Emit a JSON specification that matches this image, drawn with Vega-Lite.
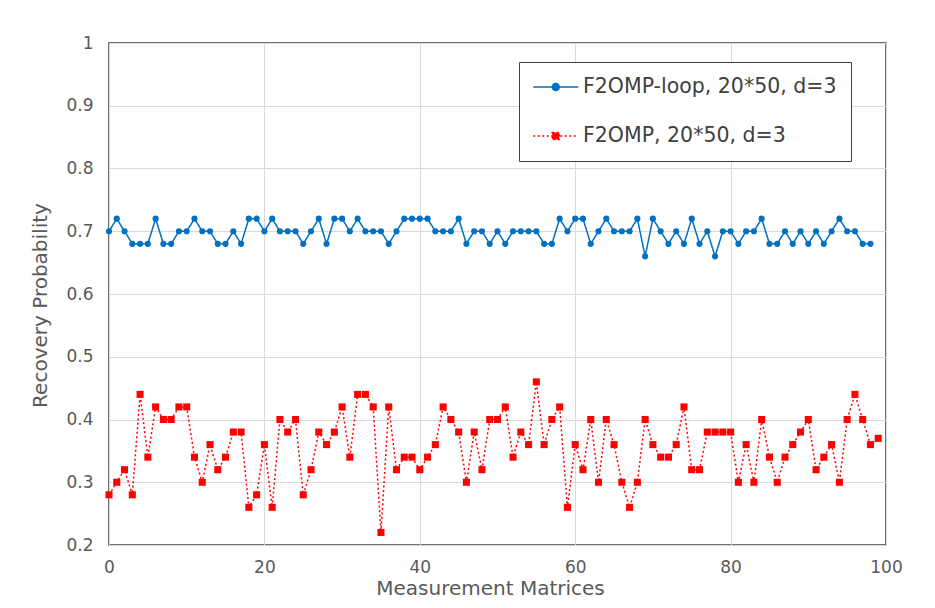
{
  "$schema": "https://vega.github.io/schema/vega-lite/v6.json",
  "width": 777,
  "height": 502,
  "autosize": {"type": "none"},
  "padding": {"left": 109, "top": 43, "right": 49, "bottom": 63},
  "background": "white",
  "config": {
    "font": "DejaVu Sans",
    "view": {"stroke": "#404040", "strokeWidth": 1.5},
    "axis": {
      "labelFont": "DejaVu Sans",
      "labelFontSize": 17,
      "labelColor": "#595959",
      "labelFlush": false,
      "titleFont": "DejaVu Sans",
      "titleFontSize": 20,
      "titleFontWeight": "normal",
      "titleColor": "#595959",
      "gridColor": "#D9D9D9",
      "gridWidth": 1,
      "domain": false,
      "ticks": false
    }
  },
  "data": {
    "values": [
      {"x":0,"a":0.70,"b":0.28},{"x":1,"a":0.72,"b":0.30},{"x":2,"a":0.70,"b":0.32},{"x":3,"a":0.68,"b":0.28},{"x":4,"a":0.68,"b":0.44},
      {"x":5,"a":0.68,"b":0.34},{"x":6,"a":0.72,"b":0.42},{"x":7,"a":0.68,"b":0.40},{"x":8,"a":0.68,"b":0.40},{"x":9,"a":0.70,"b":0.42},
      {"x":10,"a":0.70,"b":0.42},{"x":11,"a":0.72,"b":0.34},{"x":12,"a":0.70,"b":0.30},{"x":13,"a":0.70,"b":0.36},{"x":14,"a":0.68,"b":0.32},
      {"x":15,"a":0.68,"b":0.34},{"x":16,"a":0.70,"b":0.38},{"x":17,"a":0.68,"b":0.38},{"x":18,"a":0.72,"b":0.26},{"x":19,"a":0.72,"b":0.28},
      {"x":20,"a":0.70,"b":0.36},{"x":21,"a":0.72,"b":0.26},{"x":22,"a":0.70,"b":0.40},{"x":23,"a":0.70,"b":0.38},{"x":24,"a":0.70,"b":0.40},
      {"x":25,"a":0.68,"b":0.28},{"x":26,"a":0.70,"b":0.32},{"x":27,"a":0.72,"b":0.38},{"x":28,"a":0.68,"b":0.36},{"x":29,"a":0.72,"b":0.38},
      {"x":30,"a":0.72,"b":0.42},{"x":31,"a":0.70,"b":0.34},{"x":32,"a":0.72,"b":0.44},{"x":33,"a":0.70,"b":0.44},{"x":34,"a":0.70,"b":0.42},
      {"x":35,"a":0.70,"b":0.22},{"x":36,"a":0.68,"b":0.42},{"x":37,"a":0.70,"b":0.32},{"x":38,"a":0.72,"b":0.34},{"x":39,"a":0.72,"b":0.34},
      {"x":40,"a":0.72,"b":0.32},{"x":41,"a":0.72,"b":0.34},{"x":42,"a":0.70,"b":0.36},{"x":43,"a":0.70,"b":0.42},{"x":44,"a":0.70,"b":0.40},
      {"x":45,"a":0.72,"b":0.38},{"x":46,"a":0.68,"b":0.30},{"x":47,"a":0.70,"b":0.38},{"x":48,"a":0.70,"b":0.32},{"x":49,"a":0.68,"b":0.40},
      {"x":50,"a":0.70,"b":0.40},{"x":51,"a":0.68,"b":0.42},{"x":52,"a":0.70,"b":0.34},{"x":53,"a":0.70,"b":0.38},{"x":54,"a":0.70,"b":0.36},
      {"x":55,"a":0.70,"b":0.46},{"x":56,"a":0.68,"b":0.36},{"x":57,"a":0.68,"b":0.40},{"x":58,"a":0.72,"b":0.42},{"x":59,"a":0.70,"b":0.26},
      {"x":60,"a":0.72,"b":0.36},{"x":61,"a":0.72,"b":0.32},{"x":62,"a":0.68,"b":0.40},{"x":63,"a":0.70,"b":0.30},{"x":64,"a":0.72,"b":0.40},
      {"x":65,"a":0.70,"b":0.36},{"x":66,"a":0.70,"b":0.30},{"x":67,"a":0.70,"b":0.26},{"x":68,"a":0.72,"b":0.30},{"x":69,"a":0.66,"b":0.40},
      {"x":70,"a":0.72,"b":0.36},{"x":71,"a":0.70,"b":0.34},{"x":72,"a":0.68,"b":0.34},{"x":73,"a":0.70,"b":0.36},{"x":74,"a":0.68,"b":0.42},
      {"x":75,"a":0.72,"b":0.32},{"x":76,"a":0.68,"b":0.32},{"x":77,"a":0.70,"b":0.38},{"x":78,"a":0.66,"b":0.38},{"x":79,"a":0.70,"b":0.38},
      {"x":80,"a":0.70,"b":0.38},{"x":81,"a":0.68,"b":0.30},{"x":82,"a":0.70,"b":0.36},{"x":83,"a":0.70,"b":0.30},{"x":84,"a":0.72,"b":0.40},
      {"x":85,"a":0.68,"b":0.34},{"x":86,"a":0.68,"b":0.30},{"x":87,"a":0.70,"b":0.34},{"x":88,"a":0.68,"b":0.36},{"x":89,"a":0.70,"b":0.38},
      {"x":90,"a":0.68,"b":0.40},{"x":91,"a":0.70,"b":0.32},{"x":92,"a":0.68,"b":0.34},{"x":93,"a":0.70,"b":0.36},{"x":94,"a":0.72,"b":0.30},
      {"x":95,"a":0.70,"b":0.40},{"x":96,"a":0.70,"b":0.44},{"x":97,"a":0.68,"b":0.40},{"x":98,"a":0.68,"b":0.36},{"x":99,"b":0.37}
    ]
  },
  "transform": [{"fold": ["a", "b"], "as": ["series", "y"]}],
  "encoding": {
    "x": {
      "field": "x", "type": "quantitative",
      "scale": {"domain": [0, 100], "nice": false},
      "axis": {"values": [0, 20, 40, 60, 80, 100], "title": "Measurement Matrices", "labelPadding": 14, "titlePadding": 3, "titleX": 381}
    },
    "y": {
      "field": "y", "type": "quantitative",
      "scale": {"domain": [0.2, 1], "nice": false, "zero": false},
      "axis": {"values": [0.2, 0.3, 0.4, 0.5, 0.6, 0.7, 0.8, 0.9, 1], "format": ".1~f", "title": "Recovery Probability", "labelPadding": 16, "titlePadding": 15, "titleY": 262}
    },
    "color": {
      "field": "series", "type": "nominal",
      "scale": {"domain": ["a", "b"], "range": ["#0070C0", "#FF0000"]},
      "legend": {
        "title": null,
        "orient": "none",
        "legendX": 410,
        "legendY": 19,
        "direction": "vertical",
        "fillColor": "white",
        "strokeColor": "#404040",
        "padding": 14,
        "rowPadding": 27,
        "labelFont": "DejaVu Sans",
        "labelFontSize": 20.5,
        "labelColor": "#404040",
        "labelLimit": 0,
        "labelOffset": 28,
        "symbolType": "M-1.075,0H3.425",
        "symbolSize": 400,
        "symbolStrokeWidth": 1.5,
        "labelExpr": "datum.value == 'a' ? 'F2OMP-loop, 20*50, d=3' : 'F2OMP, 20*50, d=3'",
        "encode": {
          "symbols": {
            "update": {
              "shape": {"signal": "datum.value == 'a' ? 'M-1.075,0H3.425M0.825,0A0.35,0.35,0,1,1,1.525,0A0.35,0.35,0,1,1,0.825,0Z' : 'M-1.075,0H3.425M0.825,-0.35H1.525V0.35H0.825Z'"},
              "strokeDash": {"signal": "datum.value == 'a' ? [1,0] : [2,2]"},
              "fill": {"signal": "datum.value == 'a' ? '#0070C0' : '#FF0000'"},
              "stroke": {"signal": "datum.value == 'a' ? '#0070C0' : '#FF0000'"},
              "opacity": {"value": 1},
              "fillOpacity": {"value": 1}
            }
          }
        }
      }
    }
  },
  "layer": [
    {
      "mark": {"type": "line", "strokeWidth": 1.5},
      "encoding": {
        "strokeDash": {
          "field": "series", "type": "nominal",
          "scale": {"domain": ["a", "b"], "range": [[1, 0], [2, 2.5]]},
          "legend": null
        }
      }
    },
    {
      "transform": [{"filter": "datum.series == 'a'"}],
      "mark": {"type": "point", "filled": true, "opacity": 1, "shape": "circle", "size": 38}
    },
    {
      "transform": [{"filter": "datum.series == 'b'"}],
      "mark": {"type": "point", "filled": true, "opacity": 1, "shape": "square", "size": 50}
    }
  ]
}
